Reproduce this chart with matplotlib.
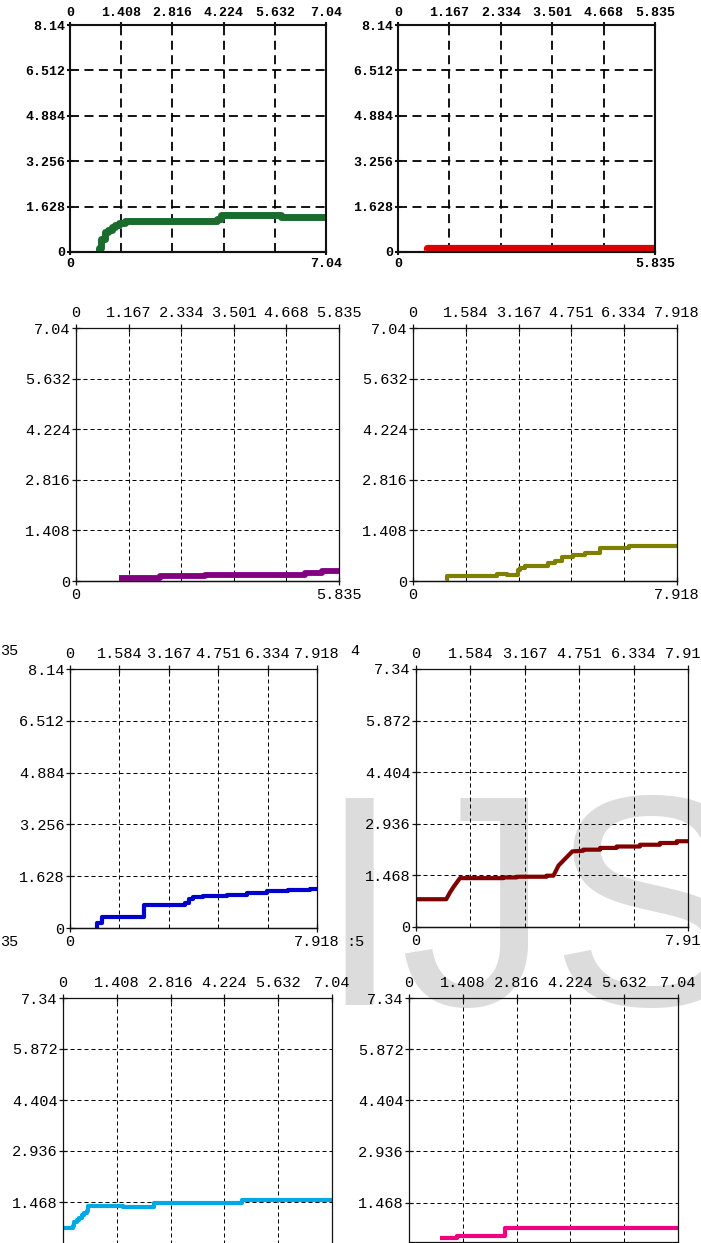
import matplotlib
matplotlib.use("Agg")
import matplotlib.pyplot as plt

# ---------------- data ----------------
xticks_704 = [0, 1.408, 2.816, 4.224, 5.632, 7.04]
xticks_5835 = [0, 1.167, 2.334, 3.501, 4.668, 5.835]
xticks_7918 = [0, 1.584, 3.167, 4.751, 6.334, 7.918]
yticks_814 = [0, 1.628, 3.256, 4.884, 6.512, 8.14]
yticks_704 = [0, 1.408, 2.816, 4.224, 5.632, 7.04]
yticks_734 = [0, 1.468, 2.936, 4.404, 5.872, 7.34]

green_x = [0.75, 0.80, 0.85, 0.95, 1.05, 1.15, 1.25, 1.35, 1.50, 4.05, 4.15, 5.80, 7.04]
green_y = [0.00, 0.15, 0.45, 0.70, 0.80, 0.90, 0.97, 1.05, 1.12, 1.20, 1.33, 1.26, 1.26]

red_x = [0.62, 0.66, 5.835]
red_y = [0.05, 0.14, 0.14]

purple_x = [0.95, 1.86, 2.86, 5.08, 5.45, 5.835]
purple_y = [0.08, 0.13, 0.18, 0.23, 0.27, 0.27]

olive_x = [0.99, 1.02, 2.51, 2.81, 3.16, 3.22, 3.36, 4.06, 4.26, 4.46, 4.81, 5.17, 5.62, 6.47, 7.918]
olive_y = [0.00, 0.14, 0.20, 0.17, 0.30, 0.36, 0.42, 0.50, 0.56, 0.68, 0.72, 0.77, 0.91, 0.98, 0.98]

blue_x = [0.80, 0.88, 1.01, 2.37, 3.69, 3.80, 3.95, 4.27, 5.02, 5.66, 6.30, 7.00, 7.69, 7.918]
blue_y = [0.00, 0.15, 0.34, 0.73, 0.80, 0.90, 0.98, 1.01, 1.05, 1.10, 1.15, 1.21, 1.24, 1.24]

maroon_x = [0.00, 0.88, 1.00, 1.10, 1.28, 2.54, 2.54, 2.93, 2.93, 3.80, 3.80, 4.00,
            4.15, 4.35, 4.55, 4.87, 4.87, 5.36, 5.36, 5.84, 5.84, 6.52, 6.52, 7.10,
            7.10, 7.59, 7.59, 7.918]
maroon_y = [0.79, 0.79, 1.00, 1.15, 1.39, 1.39, 1.41, 1.41, 1.43, 1.43, 1.46, 1.46,
            1.75, 1.95, 2.15, 2.17, 2.20, 2.20, 2.25, 2.25, 2.29, 2.29, 2.34, 2.34,
            2.39, 2.39, 2.44, 2.44]

cyan_x = [0.00, 0.27, 0.30, 0.36, 0.42, 0.49, 0.55, 0.62, 0.66, 1.58, 2.38, 4.68, 7.04]
cyan_y = [0.71, 0.78, 0.90, 0.95, 1.02, 1.08, 1.15, 1.22, 1.35, 1.32, 1.45, 1.53, 1.53]

pink_x = [0.81, 1.25, 2.51, 7.04]
pink_y = [0.45, 0.52, 0.73, 0.73]

# ---------------- figure ----------------
W, H = 701, 1243
fig = plt.figure(figsize=(W / 100, H / 100), dpi=100)
fig.patch.set_facecolor("white")

SMALL_FONT = dict(family=["Liberation Mono", "DejaVu Sans Mono"], size=9.5, weight="bold")
BIG_FONT = dict(family=["Liberation Mono", "DejaVu Sans Mono"], size=11)


def px_axes(x0, y0, x1, y1):
    return fig.add_axes([x0 / W, 1 - y1 / H, (x1 - x0) / W, (y1 - y0) / H])


def fmt(v):
    return f"{v:g}"


def setup(ax, xt, yt, small, ylo=0, bottom_labels=True):
    font = SMALL_FONT if small else BIG_FONT
    spine_w = 1.5 if small else 0.9
    grid_w = 1.3 if small else 0.72
    dash = (0, (5, 3)) if small else (0, (4, 3))
    ax.set_facecolor("none")
    ax.set_xlim(0, xt[-1])
    ax.set_ylim(ylo, yt[-1])
    for s in ax.spines.values():
        s.set_linewidth(spine_w)
        s.set_color("#111111")
    ax.xaxis.tick_top()
    ax.set_xticks(xt)
    ax.set_xticklabels([fmt(v) for v in xt], fontdict=font)
    yshow = [v for v in yt if v >= ylo]
    ax.set_yticks(yshow)
    ax.set_yticklabels([fmt(v) for v in yshow], fontdict=font)
    ax.tick_params(axis="both", direction="inout", length=5 if small else 6,
                   width=spine_w, color="#111111", pad=1.0)
    ax.tick_params(axis="x", pad=1.5 if small else 2.5)
    ax.grid(True, color="black", linewidth=grid_w, linestyle=dash)
    if bottom_labels:
        sec = ax.secondary_xaxis("bottom")
        sec.set_xticks([0, xt[-1]])
        sec.set_xticklabels([fmt(0), fmt(xt[-1])], fontdict=font)
        sec.tick_params(direction="inout", length=5 if small else 6, width=spine_w,
                        color="#111111", pad=2.0)
        sec.spines["bottom"].set_linewidth(spine_w)


# watermark (behind transparent axes)
fig.text(317 / W, 1 - 1005 / H, "IJS", fontsize=216, family="Liberation Sans",
         color="#dcdcdc", ha="left", va="baseline", zorder=-5)

# Row 1
ax1 = px_axes(70, 25, 326, 252)
setup(ax1, xticks_704, yticks_814, True)
ax1.plot(green_x, green_y, drawstyle="steps-post", color="#1b6b2c", lw=5.0,
         solid_capstyle="butt")

ax2 = px_axes(398, 25, 655, 252)
setup(ax2, xticks_5835, yticks_814, True)
ax2.plot(red_x, red_y, drawstyle="steps-post", color="#dd0000", lw=5.2,
         solid_capstyle="butt")

# Row 2
ax3 = px_axes(76, 328, 339, 581)
setup(ax3, xticks_5835, yticks_704, False)
ax3.plot(purple_x, purple_y, drawstyle="steps-post", color="#800080", lw=4.2,
         solid_capstyle="butt")

ax4 = px_axes(413, 328, 677, 581)
setup(ax4, xticks_7918, yticks_704, False)
ax4.plot(olive_x, olive_y, drawstyle="steps-post", color="#808000", lw=3.0,
         solid_capstyle="butt")

# Row 3
ax5 = px_axes(70, 669, 317, 928)
setup(ax5, xticks_7918, yticks_814, False)
ax5.plot(blue_x, blue_y, drawstyle="steps-post", color="#0000cc", lw=3.0,
         solid_capstyle="butt")

ax6 = px_axes(416, 669, 688, 927)
setup(ax6, xticks_7918, yticks_734, False)
ax6.plot(maroon_x, maroon_y, color="#800000", lw=3.0, solid_capstyle="butt")

# Row 4
ax7 = px_axes(63, 998, 332, 1253)
setup(ax7, xticks_704, yticks_734, False)
ax7.plot(cyan_x, cyan_y, drawstyle="steps-post", color="#00a8e6", lw=3.0,
         solid_capstyle="butt")

ax8 = px_axes(409, 998, 678, 1242)
setup(ax8, xticks_704, yticks_734, False, ylo=0.334, bottom_labels=False)
ax8.plot(pink_x, pink_y, drawstyle="steps-post", color="#f0007f", lw=3.0,
         solid_capstyle="butt")

# cropped label fragments at the panel borders
for (x, y, s) in [(0, 651, "35"), (350, 651, "4"), (0, 942, "35"), (346, 942, ":5")]:
    fig.text(x / W, 1 - y / H, s, fontdict=BIG_FONT, ha="left", va="center")

fig.savefig("out.png", dpi=100)
